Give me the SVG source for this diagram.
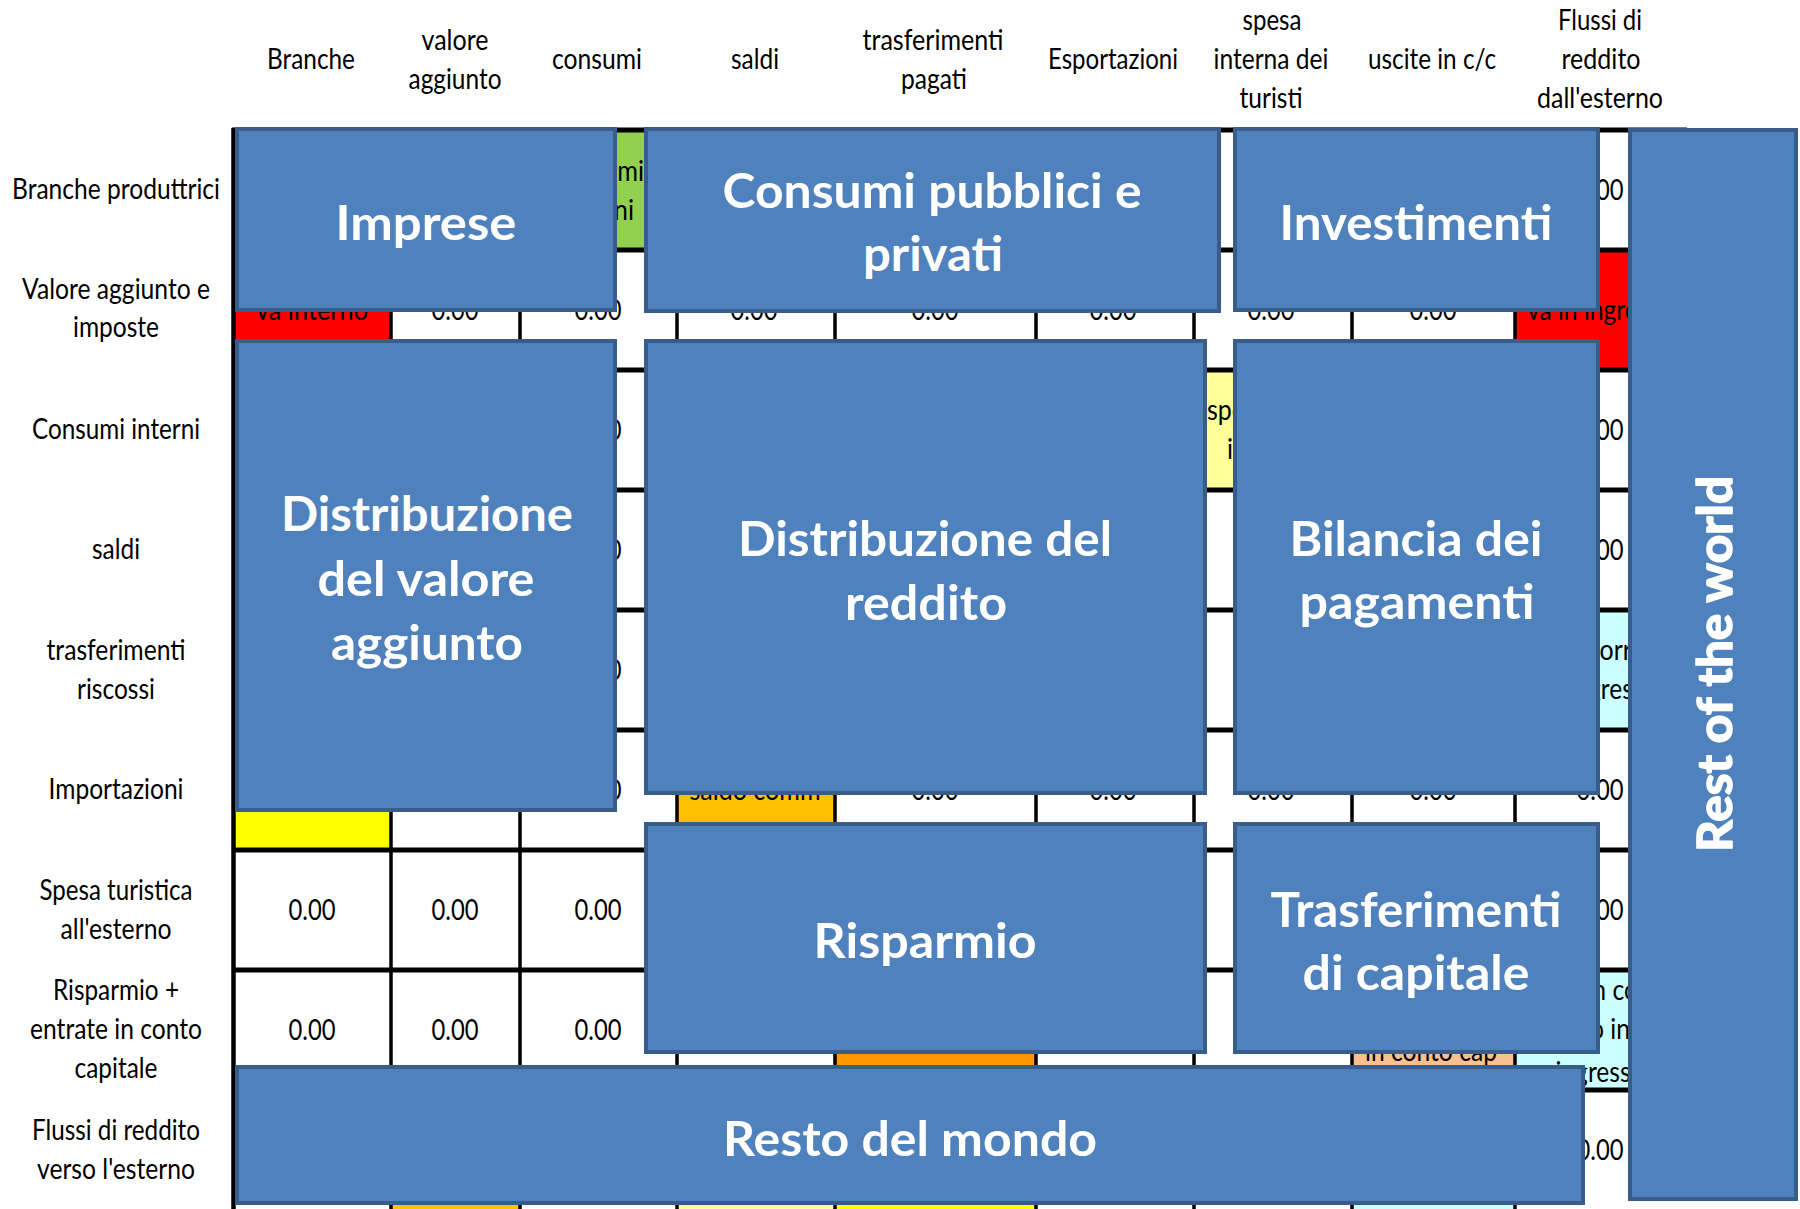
<svg xmlns="http://www.w3.org/2000/svg" width="1800" height="1209" viewBox="0 0 1800 1209">
<style>
.t{font-family:Lato,"Open Sans","DejaVu Sans",sans-serif;font-size:28px;fill:#000;text-anchor:middle}
.s{text-anchor:start}
.e{text-anchor:end}
.b{font-family:Lato,"Open Sans","DejaVu Sans",sans-serif;font-size:47px;font-weight:700;fill:#fff;text-anchor:middle}
.bx{fill:#4F81BD;stroke:#385D8A;stroke-width:4}
.h{stroke:#000;stroke-width:5;fill:none}
.v{stroke:#000;stroke-width:3.5;fill:none}
</style>
<rect x="0" y="0" width="1800" height="1209" fill="#fff"/>

<g id="headers">
<text class="t" x="311" y="69" textLength="88" lengthAdjust="spacingAndGlyphs">Branche</text>
<text class="t" x="455" y="50" textLength="67" lengthAdjust="spacingAndGlyphs">valore</text>
<text class="t" x="455" y="89" textLength="93" lengthAdjust="spacingAndGlyphs">aggiunto</text>
<text class="t" x="597" y="69" textLength="90" lengthAdjust="spacingAndGlyphs">consumi</text>
<text class="t" x="755" y="69" textLength="48" lengthAdjust="spacingAndGlyphs">saldi</text>
<text class="t" x="933" y="50" textLength="141" lengthAdjust="spacingAndGlyphs">trasferimenti</text>
<text class="t" x="934" y="89" textLength="66" lengthAdjust="spacingAndGlyphs">pagati</text>
<text class="t" x="1113" y="69" textLength="130" lengthAdjust="spacingAndGlyphs">Esportazioni</text>
<text class="t" x="1272" y="30" textLength="59" lengthAdjust="spacingAndGlyphs">spesa</text>
<text class="t" x="1271" y="69" textLength="115" lengthAdjust="spacingAndGlyphs">interna dei</text>
<text class="t" x="1271" y="108" textLength="63" lengthAdjust="spacingAndGlyphs">turisti</text>
<text class="t" x="1432" y="69" textLength="128" lengthAdjust="spacingAndGlyphs">uscite in c/c</text>
<text class="t" x="1600" y="30" textLength="84" lengthAdjust="spacingAndGlyphs">Flussi di</text>
<text class="t" x="1601" y="69" textLength="79" lengthAdjust="spacingAndGlyphs">reddito</text>
<text class="t" x="1600" y="108" textLength="126" lengthAdjust="spacingAndGlyphs">dall'esterno</text>
</g>

<g id="row-labels">
<text class="t" x="116" y="199" textLength="208" lengthAdjust="spacingAndGlyphs">Branche produttrici</text>
<text class="t" x="116" y="299" textLength="188" lengthAdjust="spacingAndGlyphs">Valore aggiunto e</text>
<text class="t" x="116" y="337" textLength="86" lengthAdjust="spacingAndGlyphs">imposte</text>
<text class="t" x="116" y="439" textLength="168" lengthAdjust="spacingAndGlyphs">Consumi interni</text>
<text class="t" x="116" y="559" textLength="48" lengthAdjust="spacingAndGlyphs">saldi</text>
<text class="t" x="116" y="660" textLength="139" lengthAdjust="spacingAndGlyphs">trasferimenti</text>
<text class="t" x="116" y="699" textLength="78" lengthAdjust="spacingAndGlyphs">riscossi</text>
<text class="t" x="116" y="799" textLength="135" lengthAdjust="spacingAndGlyphs">Importazioni</text>
<text class="t" x="116" y="900" textLength="153" lengthAdjust="spacingAndGlyphs">Spesa turistica</text>
<text class="t" x="116" y="939" textLength="111" lengthAdjust="spacingAndGlyphs">all'esterno</text>
<text class="t" x="116" y="1000" textLength="126" lengthAdjust="spacingAndGlyphs">Risparmio +</text>
<text class="t" x="116" y="1039" textLength="172" lengthAdjust="spacingAndGlyphs">entrate in conto</text>
<text class="t" x="116" y="1078" textLength="83" lengthAdjust="spacingAndGlyphs">capitale</text>
<text class="t" x="116" y="1140" textLength="168" lengthAdjust="spacingAndGlyphs">Flussi di reddito</text>
<text class="t" x="116" y="1179" textLength="158" lengthAdjust="spacingAndGlyphs">verso l'esterno</text>
</g>

<g id="table">
<g id="cell-fills">
<rect x="520" y="130" width="157" height="120" fill="#92D050"/>
<rect x="234" y="250" width="157" height="120" fill="#FF0000"/>
<rect x="1515" y="250" width="170" height="120" fill="#FF0000"/>
<rect x="1194" y="370" width="158" height="120" fill="#FFFF99"/>
<rect x="1515" y="610" width="170" height="120" fill="#CCFFFF"/>
<rect x="234" y="730" width="157" height="120" fill="#FFFF00"/>
<rect x="677" y="730" width="158" height="120" fill="#FFC000"/>
<rect x="835" y="970" width="201" height="120" fill="#FF9900"/>
<rect x="1352" y="970" width="163" height="120" fill="#FAC090"/>
<rect x="1515" y="970" width="170" height="120" fill="#CCFFFF"/>
<rect x="391" y="1090" width="129" height="120" fill="#FFC000"/>
<rect x="677" y="1090" width="158" height="120" fill="#FFFF99"/>
<rect x="835" y="1090" width="201" height="120" fill="#FFFF00"/>
<rect x="1352" y="1090" width="163" height="120" fill="#CCFFFF"/>
</g>
<g id="grid">
<path class="h" d="M232 130H1687M232 250H1687M232 370H1687M232 490H1687M232 610H1687M232 730H1687M232 850H1687M232 970H1687M232 1090H1687"/>
<path class="v" d="M391 128V1209M520 128V1209M677 128V1209M835 128V1209M1036 128V1209M1194 128V1209M1352 128V1209M1515 128V1209M1685 128V1195"/>
<path d="M233.5 128V1209" stroke="#000" stroke-width="4.5" fill="none"/>
</g>
<g id="cell-texts">
<text class="t" x="598" y="181" textLength="92" lengthAdjust="spacingAndGlyphs">consumi</text>
<text class="t" x="598" y="220" textLength="72" lengthAdjust="spacingAndGlyphs">interni</text>
<text class="t" x="1600" y="200" textLength="47" lengthAdjust="spacingAndGlyphs">0.00</text>
<text class="t" x="312" y="320" textLength="112" lengthAdjust="spacingAndGlyphs">va interno</text>
<text class="t" x="455" y="320" textLength="47" lengthAdjust="spacingAndGlyphs">0.00</text>
<text class="t" x="598" y="320" textLength="47" lengthAdjust="spacingAndGlyphs">0.00</text>
<text class="t" x="754" y="320" textLength="47" lengthAdjust="spacingAndGlyphs">0.00</text>
<text class="t" x="935" y="320" textLength="47" lengthAdjust="spacingAndGlyphs">0.00</text>
<text class="t" x="1113" y="320" textLength="47" lengthAdjust="spacingAndGlyphs">0.00</text>
<text class="t" x="1271" y="320" textLength="47" lengthAdjust="spacingAndGlyphs">0.00</text>
<text class="t" x="1433" y="320" textLength="47" lengthAdjust="spacingAndGlyphs">0.00</text>
<text class="t" x="1600" y="320" textLength="146" lengthAdjust="spacingAndGlyphs">va in ingresso</text>
<text class="t" x="598" y="440" textLength="47" lengthAdjust="spacingAndGlyphs">0.00</text>
<text class="t" x="1273" y="420" textLength="132" lengthAdjust="spacingAndGlyphs">spesa turisti</text>
<text class="t s" x="1227" y="459" textLength="71" lengthAdjust="spacingAndGlyphs">interni</text>
<text class="t" x="1600" y="440" textLength="47" lengthAdjust="spacingAndGlyphs">0.00</text>
<text class="t" x="598" y="560" textLength="47" lengthAdjust="spacingAndGlyphs">0.00</text>
<text class="t" x="1600" y="560" textLength="47" lengthAdjust="spacingAndGlyphs">0.00</text>
<text class="t" x="598" y="680" textLength="47" lengthAdjust="spacingAndGlyphs">0.00</text>
<text class="t" x="1600" y="660" textLength="147" lengthAdjust="spacingAndGlyphs">trasf. correnti</text>
<text class="t" x="1600" y="699" textLength="115" lengthAdjust="spacingAndGlyphs">in ingresso</text>
<text class="t" x="598" y="800" textLength="47" lengthAdjust="spacingAndGlyphs">0.00</text>
<text class="t" x="755" y="800" textLength="131" lengthAdjust="spacingAndGlyphs">saldo comm</text>
<text class="t" x="935" y="800" textLength="47" lengthAdjust="spacingAndGlyphs">0.00</text>
<text class="t" x="1113" y="800" textLength="47" lengthAdjust="spacingAndGlyphs">0.00</text>
<text class="t" x="1271" y="800" textLength="47" lengthAdjust="spacingAndGlyphs">0.00</text>
<text class="t" x="1433" y="800" textLength="47" lengthAdjust="spacingAndGlyphs">0.00</text>
<text class="t" x="1600" y="800" textLength="47" lengthAdjust="spacingAndGlyphs">0.00</text>
<text class="t" x="312" y="920" textLength="47" lengthAdjust="spacingAndGlyphs">0.00</text>
<text class="t" x="455" y="920" textLength="47" lengthAdjust="spacingAndGlyphs">0.00</text>
<text class="t" x="598" y="920" textLength="47" lengthAdjust="spacingAndGlyphs">0.00</text>
<text class="t" x="1600" y="920" textLength="47" lengthAdjust="spacingAndGlyphs">0.00</text>
<text class="t" x="312" y="1040" textLength="47" lengthAdjust="spacingAndGlyphs">0.00</text>
<text class="t" x="455" y="1040" textLength="47" lengthAdjust="spacingAndGlyphs">0.00</text>
<text class="t" x="598" y="1040" textLength="47" lengthAdjust="spacingAndGlyphs">0.00</text>
<text class="t" x="1431" y="1061" textLength="132" lengthAdjust="spacingAndGlyphs">in conto cap</text>
<text class="t" x="1600" y="1000" textLength="149" lengthAdjust="spacingAndGlyphs">trasf. in conto</text>
<text class="t e" x="1630" y="1039" textLength="88" lengthAdjust="spacingAndGlyphs">conto in</text>
<text class="t" x="1600" y="1082" textLength="89" lengthAdjust="spacingAndGlyphs">ingresso</text>
<text class="t" x="1600" y="1160" textLength="47" lengthAdjust="spacingAndGlyphs">0.00</text>
</g>
</g>

<g id="imprese">
<rect class="bx" x="237" y="129" width="378" height="181"/>
<text class="b" x="426" y="240" textLength="181" lengthAdjust="spacingAndGlyphs">Imprese</text>
</g>
<g id="consumi-pubblici-privati">
<rect class="bx" x="646" y="129" width="573" height="182"/>
<text class="b" x="932" y="208" textLength="419" lengthAdjust="spacingAndGlyphs">Consumi pubblici e</text>
<text class="b" x="933" y="271" textLength="140" lengthAdjust="spacingAndGlyphs">privati</text>
</g>
<g id="investimenti">
<rect class="bx" x="1235" y="129" width="363" height="181"/>
<text class="b" x="1416" y="240" textLength="273" lengthAdjust="spacingAndGlyphs">Investimenti</text>
</g>
<g id="distribuzione-valore-aggiunto">
<rect class="bx" x="237" y="341" width="378" height="469"/>
<text class="b" x="427" y="531" textLength="292" lengthAdjust="spacingAndGlyphs">Distribuzione</text>
<text class="b" x="426" y="596" textLength="217" lengthAdjust="spacingAndGlyphs">del valore</text>
<text class="b" x="427" y="660" textLength="192" lengthAdjust="spacingAndGlyphs">aggiunto</text>
</g>
<g id="distribuzione-reddito">
<rect class="bx" x="646" y="341" width="559" height="452"/>
<text class="b" x="925" y="556" textLength="374" lengthAdjust="spacingAndGlyphs">Distribuzione del</text>
<text class="b" x="926" y="620" textLength="162" lengthAdjust="spacingAndGlyphs">reddito</text>
</g>
<g id="bilancia-pagamenti">
<rect class="bx" x="1235" y="341" width="363" height="452"/>
<text class="b" x="1416" y="556" textLength="253" lengthAdjust="spacingAndGlyphs">Bilancia dei</text>
<text class="b" x="1417" y="619" textLength="235" lengthAdjust="spacingAndGlyphs">pagamenti</text>
</g>
<g id="risparmio">
<rect class="bx" x="646" y="824" width="559" height="228"/>
<text class="b" x="925" y="958" textLength="223" lengthAdjust="spacingAndGlyphs">Risparmio</text>
</g>
<g id="trasferimenti-capitale">
<rect class="bx" x="1235" y="824" width="363" height="228"/>
<text class="b" x="1416" y="927" textLength="291" lengthAdjust="spacingAndGlyphs">Trasferimenti</text>
<text class="b" x="1416" y="990" textLength="227" lengthAdjust="spacingAndGlyphs">di capitale</text>
</g>
<g id="resto-del-mondo">
<rect class="bx" x="237" y="1067" width="1346" height="136"/>
<text class="b" x="910" y="1156" textLength="374" lengthAdjust="spacingAndGlyphs">Resto del mondo</text>
</g>
<g id="rest-of-the-world">
<rect class="bx" x="1630" y="130" width="166" height="1069"/>
<text class="b" x="1713" y="683" font-size="51" font-weight="900" stroke="#fff" stroke-width="1.6" stroke-linejoin="round" textLength="376" lengthAdjust="spacingAndGlyphs" transform="rotate(-90 1713 664)">Rest of the world</text>
</g>
<g id="connectors"/>
</svg>
